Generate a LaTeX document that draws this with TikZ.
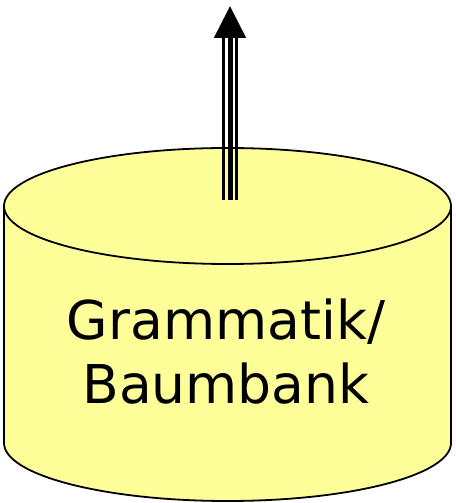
\documentclass[tikz,border=0pt]{standalone}
\usepackage{fontspec}
\setmainfont{DejaVu Sans}
\usepackage{tikz}
\usetikzlibrary{arrows.meta,positioning}
\definecolor{storeyellow}{RGB}{255,255,153}

\begin{document}
\begin{tikzpicture}[
  x=1pt, y=1pt,
  rim/.style={draw=black, line width=1.8pt},
  label/.style={align=center, font=\fontsize{53.5}{64}\selectfont},
  railouter/.style={line width=2.5pt},
  railmid/.style={line width=5pt, -{Triangle[length=32pt, width=31pt]}},
]
  \useasboundingbox (0,0) rectangle (455,503);

  % Cylinder
  \fill[storeyellow] (4,297) -- (4,60) arc[start angle=180, end angle=360, x radius=223.5, y radius=58]
    -- (451,297) arc[start angle=0, end angle=180, x radius=223.5, y radius=58] -- cycle;
  \draw[rim] (4,297) -- (4,60) arc[start angle=180, end angle=360, x radius=223.5, y radius=58] -- (451,297);
  \draw[rim] (227.5,297) ellipse[x radius=223.5, y radius=58];

  \node[label] (store) at (226,151) {Grammatik/\\Baumbank};

  % Output arrow
  \coordinate (foot) at (230,303);
  \coordinate (head) at (230,497);
  \draw[railouter] ([xshift=-6.5pt]foot) -- ([xshift=-6.5pt, yshift=-28pt]head);
  \draw[railouter] ([xshift=6.5pt]foot) -- ([xshift=6.5pt, yshift=-28pt]head);
  \draw[railmid] (foot) -- (head);
\end{tikzpicture}
\end{document}
